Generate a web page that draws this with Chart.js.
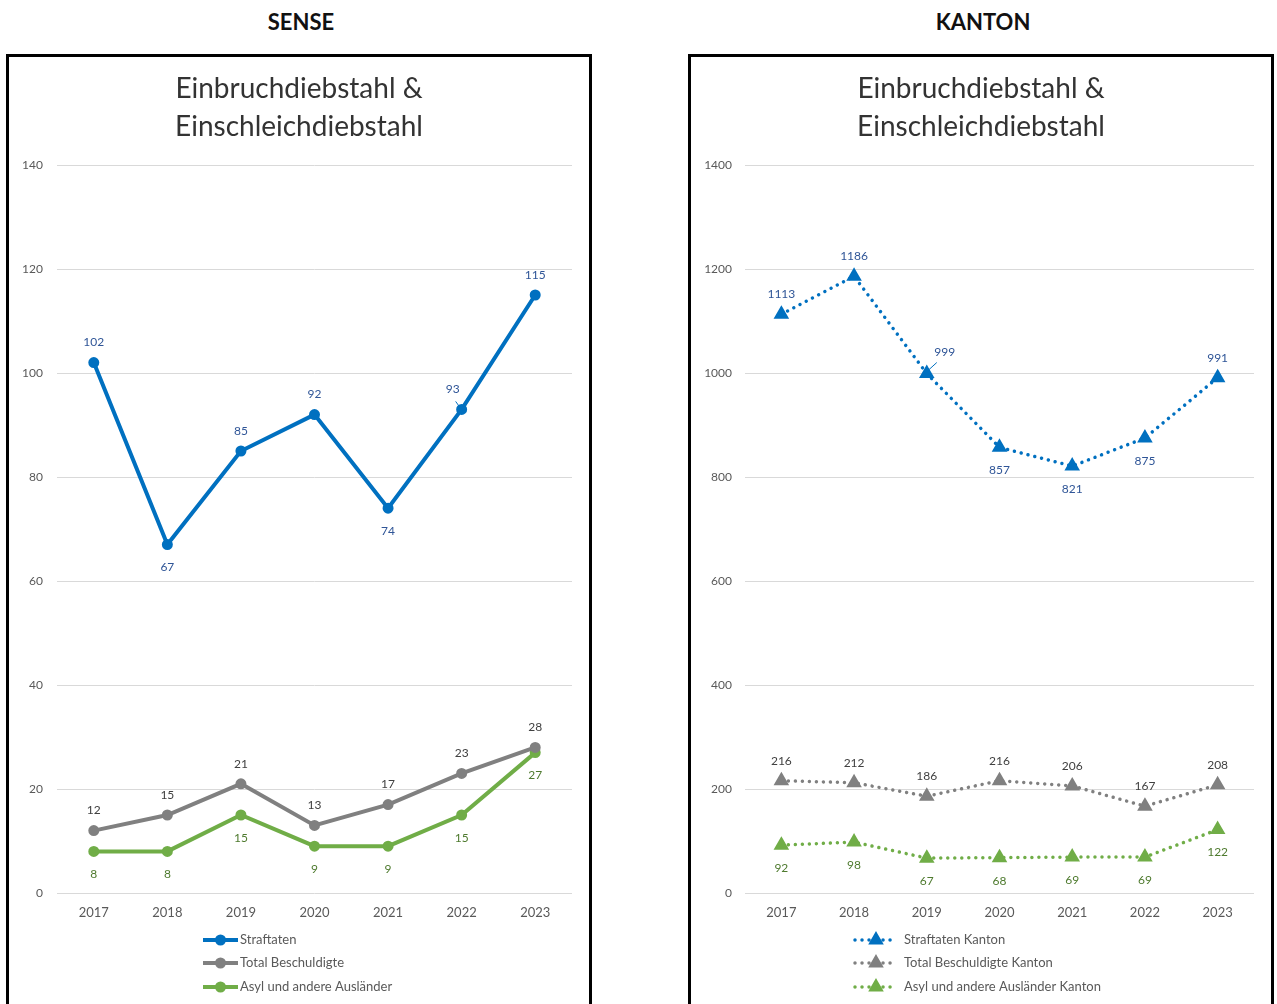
<!DOCTYPE html>
<html>
<head>
<meta charset="utf-8">
<script src="https://cdn.jsdelivr.net/npm/chart.js@4.4.1/dist/chart.umd.min.js"></script>
<style>
  body { margin: 0; width: 1277px; height: 1004px; overflow: hidden; background: #fff; font-family: Lato, sans-serif; }
  .head { position: absolute; top: 8px; width: 300px; text-align: center; font: bold 22px Lato, sans-serif; color: #111; }
  .box { position: absolute; top: 54px; width: 586px; height: 1000px; border: 3px solid #000; box-sizing: border-box; }
  .box canvas { position: absolute; left: 0; top: 0; }
</style>
</head>
<body>
<div class="head" style="left:151px">SENSE</div>
<div class="head" style="left:833px">KANTON</div>
<div class="box" style="left:6px"><canvas id="senseChart" width="580" height="947"></canvas></div>
<div class="box" style="left:688px"><canvas id="kantonChart" width="580" height="947"></canvas></div>
<script>
const years = ['2017', '2018', '2019', '2020', '2021', '2022', '2023'];

// Sense district
const senseStraftaten = [102, 67, 85, 92, 74, 93, 115];
const senseBeschuldigte = [12, 15, 21, 13, 17, 23, 28];
const senseAuslaender = [8, 8, 15, 9, 9, 15, 27];

// whole canton
const kantonStraftaten = [1113, 1186, 999, 857, 821, 875, 991];
const kantonBeschuldigte = [216, 212, 186, 216, 206, 167, 208];
const kantonAuslaender = [92, 98, 67, 68, 69, 69, 122];

const chartTitle = ['Einbruchdiebstahl &', 'Einschleichdiebstahl'];

const BLUE = '#0070C0', GRAY = '#808080', GREEN = '#70AD47';
const DOTS = [0.01, 7];

// value labels next to each point; 'u' = above, 'd' = below, object = moved with a leader line
const valueLabels = {
  id: 'valueLabels',
  afterDatasetsDraw(chart) {
    const ctx = chart.ctx;
    chart.data.datasets.forEach((ds, i) => {
      const meta = chart.getDatasetMeta(i);
      ctx.save();
      ctx.font = '12px Lato';
      ctx.textAlign = 'center';
      ctx.textBaseline = 'middle';
      meta.data.forEach((pt, j) => {
        const pos = ds.labelPos[j];
        let dx = 0, dy = pos === 'u' ? -20 : 23;
        if (typeof pos === 'object') {
          dx = pos.dx; dy = pos.dy;
          ctx.strokeStyle = ds.borderColor;
          ctx.lineWidth = 1;
          ctx.beginPath();
          ctx.moveTo(pt.x + pos.lx, pt.y + pos.ly);
          ctx.lineTo(pt.x - 1, pt.y - 1);
          ctx.stroke();
        }
        ctx.fillStyle = ds.labelColor;
        ctx.fillText(String(ds.data[j]), pt.x + dx, pt.y + dy);
      });
      ctx.restore();
    });
  }
};

// title on top and a stacked legend under the axis
const panelDecor = {
  id: 'panelDecor',
  afterDraw(chart, args, opts) {
    const ctx = chart.ctx;
    const cx = chart.width / 2;
    ctx.save();
    ctx.fillStyle = '#333';
    ctx.font = '28px Lato';
    ctx.textAlign = 'center';
    ctx.textBaseline = 'middle';
    ctx.fillText(chartTitle[0], cx, 32);
    ctx.fillText(chartTitle[1], cx, 70);

    ctx.font = '13px Lato';
    ctx.textAlign = 'left';
    chart.data.datasets.forEach((ds, i) => {
      const y = opts.rowY[i];
      ctx.strokeStyle = ds.borderColor;
      ctx.lineWidth = ds.borderWidth;
      ctx.lineCap = ds.borderCapStyle || 'butt';
      ctx.setLineDash(ds.borderDash || []);
      ctx.beginPath();
      ctx.moveTo(opts.x0, y);
      ctx.lineTo(opts.x1, y);
      ctx.stroke();
      ctx.setLineDash([]);
      ctx.fillStyle = ds.borderColor;
      Chart.helpers.drawPoint(ctx, { pointStyle: ds.pointStyle, radius: ds.pointRadius, rotation: 0, borderWidth: 1 }, (opts.x0 + opts.x1) / 2, y);
      ctx.fillStyle = '#595959';
      ctx.fillText(ds.label, opts.tx, y);
    });
    ctx.restore();
  }
};

function makeOptions(maxY, step, yWidth, yPad, legend) {
  return {
    responsive: false,
    animation: false,
    layout: { padding: { left: 0, right: 17, top: 108, bottom: 81 } },
    plugins: {
      legend: { display: false },
      title: { display: false },
      tooltip: { enabled: false },
      panelDecor: legend
    },
    scales: {
      x: {
        offset: true,
        grid: { display: false, drawTicks: false },
        border: { display: false },
        ticks: { color: '#595959', font: { family: 'Lato', size: 13 }, padding: 12 },
        afterFit(scale) { scale.height = 30; }
      },
      y: {
        min: 0,
        max: maxY,
        grid: { color: '#D9D9D9', lineWidth: 1, drawTicks: false },
        border: { display: false },
        ticks: {
          stepSize: step, color: '#595959', font: { family: 'Lato', size: 12 }, padding: yPad,
          callback: (v) => String(v)
        },
        afterFit(scale) { scale.width = yWidth; }
      }
    }
  };
}

new Chart(document.getElementById('senseChart'), {
  type: 'line',
  data: {
    labels: years,
    datasets: [
      {
        label: 'Straftaten', data: senseStraftaten,
        borderColor: BLUE, backgroundColor: BLUE, borderWidth: 4,
        pointStyle: 'circle', pointRadius: 3.5, labelColor: '#2F5597',
        labelPos: ['u', 'd', 'u', 'u', 'd', { dx: -9, dy: -20, lx: -6, ly: -8 }, 'u']
      },
      {
        label: 'Total Beschuldigte', data: senseBeschuldigte,
        borderColor: GRAY, backgroundColor: GRAY, borderWidth: 4,
        pointStyle: 'circle', pointRadius: 3.5, labelColor: '#404040',
        labelPos: ['u', 'u', 'u', 'u', 'u', 'u', 'u']
      },
      {
        label: 'Asyl und andere Ausländer', data: senseAuslaender,
        borderColor: GREEN, backgroundColor: GREEN, borderWidth: 4,
        pointStyle: 'circle', pointRadius: 3.5, labelColor: '#4E7A2E',
        labelPos: ['d', 'd', 'd', 'd', 'd', 'd', 'd']
      }
    ]
  },
  options: makeOptions(140, 20, 48, 14, { rowY: [883, 906, 930], x0: 194, x1: 229, tx: 231 }),
  plugins: [valueLabels, panelDecor]
});

new Chart(document.getElementById('kantonChart'), {
  type: 'line',
  data: {
    labels: years,
    datasets: [
      {
        label: 'Straftaten Kanton', data: kantonStraftaten,
        borderColor: BLUE, backgroundColor: BLUE, borderWidth: 3.5,
        borderDash: DOTS, borderCapStyle: 'round',
        pointStyle: 'triangle', pointRadius: 5.5, labelColor: '#2F5597',
        labelPos: ['u', 'u', { dx: 18, dy: -21, lx: 10, ly: -11 }, 'd', 'd', 'd', 'u']
      },
      {
        label: 'Total Beschuldigte Kanton', data: kantonBeschuldigte,
        borderColor: GRAY, backgroundColor: GRAY, borderWidth: 3.5,
        borderDash: DOTS, borderCapStyle: 'round',
        pointStyle: 'triangle', pointRadius: 5.5, labelColor: '#404040',
        labelPos: ['u', 'u', 'u', 'u', 'u', 'u', 'u']
      },
      {
        label: 'Asyl und andere Ausländer Kanton', data: kantonAuslaender,
        borderColor: GREEN, backgroundColor: GREEN, borderWidth: 3.5,
        borderDash: DOTS, borderCapStyle: 'round',
        pointStyle: 'triangle', pointRadius: 5.5, labelColor: '#4E7A2E',
        labelPos: ['d', 'd', 'd', 'd', 'd', 'd', 'd']
      }
    ]
  },
  options: makeOptions(1400, 200, 54, 13, { rowY: [883, 906, 930], x0: 164, x1: 206, tx: 213 }),
  plugins: [valueLabels, panelDecor]
});
</script>
</body>
</html>
